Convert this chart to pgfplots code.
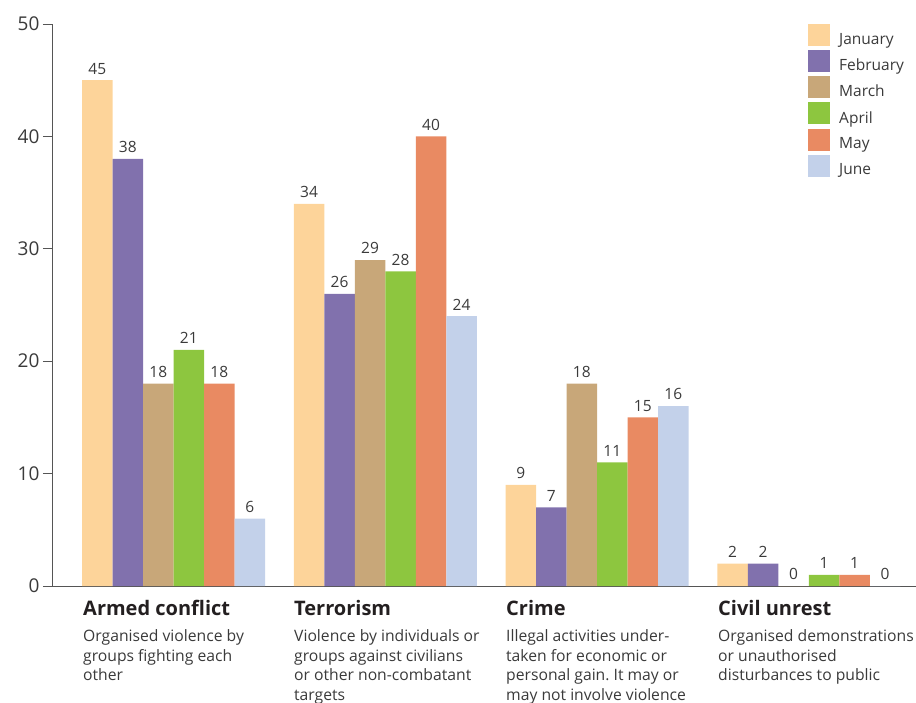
\documentclass[border=0pt]{standalone}
\usepackage{pgfplots}
\pgfplotsset{compat=1.18}
\usepackage{fontspec}
\setmainfont{Open Sans}
\frenchspacing

\definecolor{jan}{HTML}{FDD49A}
\definecolor{feb}{HTML}{8171AD}
\definecolor{mar}{HTML}{C8A779}
\definecolor{apr}{HTML}{8DC63F}
\definecolor{may}{HTML}{E98A62}
\definecolor{jun}{HTML}{C3D1EA}
\definecolor{txt}{HTML}{3A3A3A}
\definecolor{head}{HTML}{231F20}
\definecolor{axisgray}{HTML}{555555}

% incidents per category (0 Armed conflict, 1 Terrorism, 2 Crime, 3 Civil unrest)
\pgfplotstableread{
x jan feb mar apr may jun
0 45 38 18 21 18 6
1 34 26 29 28 40 24
2 9 7 18 11 15 16
3 2 2 0 1 1 0
}\incidents

\begin{document}
\begin{tikzpicture}[x=1pt,y=1pt]
\useasboundingbox (0,0) rectangle (916,702);
\begin{axis}[
  at={(52pt,116pt)}, anchor=south west,
  scale only axis, width=864pt, height=562pt,
  xmin=-0.5737, xmax=3.5057, ymin=0, ymax=50,
  axis lines=left,
  axis line style={-, draw=axisgray, line width=0.9pt},
  x axis line style={shorten <=-9pt},
  xtick=\empty,
  ytick={0,10,...,50},
  tick align=outside, tick style={draw=axisgray, line width=0.9pt},
  major tick length=9pt,
  y tick label style={font=\fontsize{19}{19}\selectfont, text=txt},
  /pgf/number format/assume math mode=true,
  ybar=0pt, bar width=0.144,
  every axis plot/.append style={draw=none},
  nodes near coords,
  every node near coord/.append style={font=\fontsize{15.5}{15.5}\selectfont, text=txt, yshift=2.5pt},
  legend cell align=left,
  legend style={at={(rel axis cs:0.875,1)}, anchor=north west, draw=none, fill=none,
    inner sep=0pt, row sep=4pt, column sep=9pt,
    font=\fontsize{15.5}{15.5}\selectfont, text=txt,
    nodes={inner sep=0pt}},
  legend image code/.code={\fill[#1] (0pt,-6.5pt) rectangle (22pt,15.5pt);},
]
\addplot[fill=jan] table[x=x,y=jan] {\incidents};
\addplot[fill=feb] table[x=x,y=feb] {\incidents};
\addplot[fill=mar] table[x=x,y=mar] {\incidents};
\addplot[fill=apr] table[x=x,y=apr] {\incidents};
\addplot[fill=may] table[x=x,y=may] {\incidents};
\addplot[fill=jun] table[x=x,y=jun] {\incidents};
\legend{January,February,March,April,May,June}
\end{axis}

% category headings and descriptions (descriptions anchored at the baseline of their last line)
\tikzset{head/.style={anchor=base west, inner sep=0pt, text=head, font=\fontsize{20}{20}\selectfont\bfseries},
         desc/.style={anchor=base west, inner sep=0pt, text=txt, align=left, font=\fontsize{15.7}{19.7}\selectfont}}
\node[head] at (83,86) {Armed conflict};
\node[head] at (294,86) {Terrorism};
\node[head] at (506,86) {Crime};
\node[head] at (718,86) {Civil unrest};
\node[desc] at (83,21.1) {Organised violence by\\groups fighting each\\other};
\node[desc] at (294,1.4) {Violence by individuals or\\groups against civilians\\or other non-combatant\\targets};
\node[desc] at (506,1.4) {Illegal activities under-\\taken for economic or\\personal gain. It may or\\may not involve violence};
\node[desc] at (718,21.1) {Organised demonstrations\\or unauthorised\\disturbances to public};
\end{tikzpicture}
\end{document}
